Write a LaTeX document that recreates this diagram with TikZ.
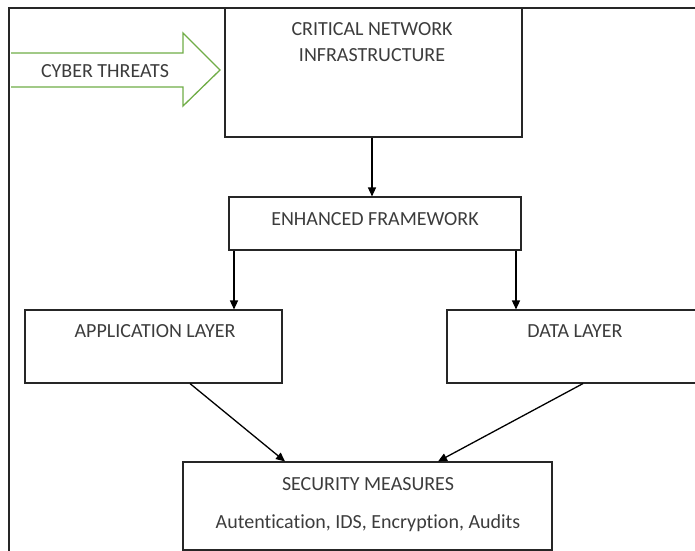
\documentclass[tikz,border=0pt]{standalone}
\usepackage{fontspec}
\setmainfont[Ligatures={NoCommon}]{Carlito}
\usetikzlibrary{arrows.meta}
\definecolor{arrgreen}{RGB}{112,173,71}
\definecolor{txtgray}{RGB}{60,60,60}
\tikzset{
  box/.style={draw=black!85, line width=1.1pt, inner sep=0pt},
  lbl/.style={text=txtgray, font=\fontsize{20}{24}\selectfont, inner sep=0pt, anchor=center},
  conn/.style={draw=black, line width=1.3pt, -{Triangle[length=9pt,width=8pt]}},
}
\begin{document}
\begin{tikzpicture}[x=1pt,y=-1pt]
\useasboundingbox (0,0) rectangle (695,550);
% outer frame
\draw[line width=1.1pt, black!85] (9,552) -- (9,8) -- (697,8);
% boxes
\node[box, minimum width=297pt, minimum height=129pt] (cni) at (373.5,72.5) {};
\node[box, minimum width=292pt, minimum height=53pt] (enh) at (375,223.5) {};
\node[box, minimum width=257pt, minimum height=73pt] (app) at (153.5,346.5) {};
\node[box, minimum width=280pt, minimum height=73pt] (data) at (587,346.5) {};
\node[box, minimum width=369pt, minimum height=88pt] (sec) at (367.5,506) {};
% texts
\node[lbl] (t1) at (372,29) {CRITICAL NETWORK};
\node[lbl] (t2) at (372,55) {INFRASTRUCTURE};
\node[lbl] (t3) at (375,219) {ENHANCED FRAMEWORK};
\node[lbl] (t4) at (155,331) {APPLICATION LAYER};
\node[lbl] (t5) at (575,331) {DATA LAYER};
\node[lbl] (t6) at (368,484) {SECURITY MEASURES};
\node[lbl] (t7) at (368,523) {Autentication, IDS, Encryption, Audits};
% cyber threats arrow
\draw[arrgreen, line width=1.3pt, fill=white]
  (11,53) -- (183,53) -- (183,33) -- (220,70) -- (183,106) -- (183,87) -- (11,87);
\node[lbl] (ct) at (105,71) {CYBER THREATS};
% connectors
\coordinate (a1) at (372,137);
\draw[conn] (cni.south -| a1) -- (enh.north -| a1);
\coordinate (a2) at (234,0);
\coordinate (a3) at (516,0);
\draw[conn] (enh.south -| a2) -- (app.north -| a2);
\draw[conn] (enh.south -| a3) -- (data.north -| a3);
\coordinate (s1) at (190,383);
\coordinate (e1) at (285,462);
\coordinate (s2) at (583,383);
\coordinate (e2) at (438,462);
\draw[conn] (app.south -| s1) -- (sec.north -| e1);
\draw[conn] (data.south -| s2) -- (sec.north -| e2);
\end{tikzpicture}
\end{document}
